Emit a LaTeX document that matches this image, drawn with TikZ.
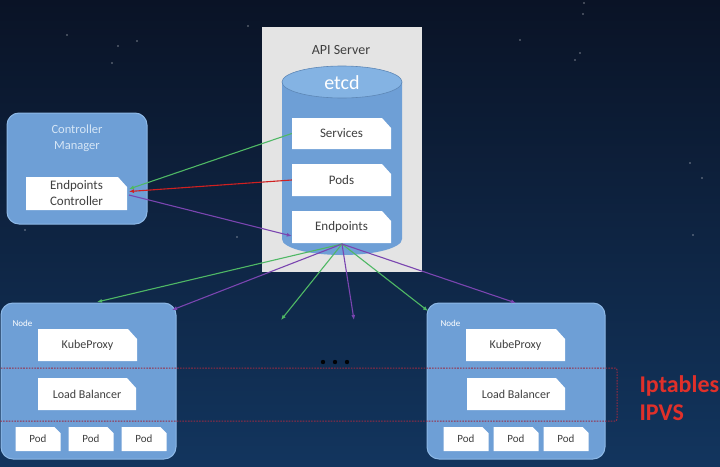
\documentclass[tikz,border=0pt]{standalone}
\usepackage{fontspec}
\setmainfont{Carlito}
\usetikzlibrary{arrows.meta}
\definecolor{bgtop}{HTML}{0A1326}
\definecolor{bgbot}{HTML}{12355E}
\definecolor{boxblue}{HTML}{6E9FD6}
\definecolor{boxedge}{HTML}{8DB8E6}
\definecolor{apigray}{HTML}{E4E4E4}
\definecolor{cyltop}{HTML}{84B3E3}
\definecolor{txtgray}{HTML}{3F3F3F}
\definecolor{cmtxt}{HTML}{D6E6F6}
\definecolor{arrgreen}{HTML}{4FB865}
\definecolor{arrpurple}{HTML}{7A45B0}
\definecolor{arrred}{HTML}{D02020}
\definecolor{lblred}{HTML}{E0302A}
\definecolor{dotred}{HTML}{9A2A42}
\begin{document}
\begin{tikzpicture}[x=1pt,y=-1pt,
  snipbox/.style={minimum width=#1, inner sep=0pt, text=txtgray, font=\fontsize{13}{14}\selectfont,
    path picture={\fill[white] (path picture bounding box.south west) -- (path picture bounding box.south east)
      -- ([yshift=-10pt]path picture bounding box.north east) -- ([xshift=-9pt]path picture bounding box.north east)
      -- (path picture bounding box.north west) -- cycle;}},
  snipbox/.default=99pt,
  bluebox/.style={draw=boxedge, line width=1pt, fill=boxblue, rounded corners=12pt, inner sep=0pt},
  podbox/.style={minimum width=45pt, minimum height=24pt, inner sep=0pt, text=txtgray, font=\fontsize{11}{12}\selectfont,
    path picture={\fill[white] (path picture bounding box.south west) -- (path picture bounding box.south east)
      -- ([yshift=-6pt]path picture bounding box.north east) -- ([xshift=-6pt]path picture bounding box.north east)
      -- (path picture bounding box.north west) -- cycle;}},
  conn/.style={line width=1.1pt, -{Latex[length=5pt,width=4pt]}},
  star/.style={fill=white, opacity=0.45},
]
% background
\shade[top color=bgtop, bottom color=bgbot] (0,0) rectangle (720,466);
\useasboundingbox (0,0) rectangle (720,466);
% stars
\foreach \sx/\sy in {67/35,118/46,137/41,112/63,25/230,237/237,584/3,583/14,580/53,575/60,690/163,702/178,693/235,248/26,520/40}
  \fill[star] (\sx,\sy) circle (0.9pt);

% API server
\node[fill=apigray, minimum width=160pt, minimum height=245pt, inner sep=0pt] (api) at (342,149.5) {};
\node[text=txtgray, font=\fontsize{14}{15}\selectfont] (apilbl) at (341,50) {API Server};
% cylinder etcd
\fill[boxblue] (282,82) -- (282,239) arc[start angle=180, end angle=360, x radius=60, y radius=-16] -- (402,82) -- cycle;
\fill[cyltop, draw=boxblue!85!black, line width=0.6pt] (342,82) ellipse[x radius=60, y radius=16];
\node[text=white, font=\fontsize{20}{21}\selectfont] (etcd) at (342,83) {etcd};

\node[snipbox, minimum height=31pt] (svc) at (341.5,133.5) {Services};
\node[snipbox, minimum height=32pt] (pods) at (341.5,180) {Pods};
\node[snipbox, minimum height=32pt] (ep) at (341.5,227) {Endpoints};

% controller manager
\node[bluebox, minimum width=140pt, minimum height=111pt] (cm) at (77,168.5) {};
\node[text=cmtxt, font=\fontsize{12.5}{16}\selectfont, align=center] (cmlbl) at (77,138) {Controller\\Manager};
\node[snipbox=101pt, minimum height=33pt, align=center, font=\fontsize{13}{16}\selectfont] (ec) at (76.5,193.5) {Endpoints\\Controller};

% nodes
\node[bluebox, minimum width=175pt, minimum height=156pt] (n1) at (88.5,381) {};
\node[bluebox, minimum width=178pt, minimum height=156pt] (n2) at (516,381) {};
\node[text=white, font=\fontsize{9}{10}\selectfont, anchor=west] (n1lbl) at (9,323) {Node};
\node[text=white, font=\fontsize{9}{10}\selectfont, anchor=west] (n2lbl) at (437,323) {Node};

\node[snipbox=99pt, minimum height=32pt, font=\fontsize{12}{13}\selectfont] (kp1) at (87.5,345) {KubeProxy};
\node[snipbox=98pt, minimum height=32pt, font=\fontsize{12}{13}\selectfont] (lb1) at (87,394) {Load Balancer};
\node[snipbox=99pt, minimum height=32pt, font=\fontsize{12}{13}\selectfont] (kp2) at (515.5,345) {KubeProxy};
\node[snipbox=98pt, minimum height=32pt, font=\fontsize{12}{13}\selectfont] (lb2) at (516,394) {Load Balancer};

\node[podbox] (p11) at (38,439) {Pod};
\node[podbox] (p12) at (91,439) {Pod};
\node[podbox] (p13) at (144,439) {Pod};
\node[podbox] (p21) at (466,439) {Pod};
\node[podbox] (p22) at (516,439) {Pod};
\node[podbox] (p23) at (566,439) {Pod};

% dotted iptables region
\draw[dotred, dash pattern=on 1.6pt off 1.2pt, line width=1pt, rounded corners=2pt] (-2,368) -- (617,368) -- (617,421) -- (-2,421);
\node[text=lblred, font=\bfseries\fontsize{24}{28}\selectfont, anchor=west, align=left] (ipt) at (636,398) {Iptables\\IPVS};

% ellipsis dots
\foreach \dx in {323,335,347} \fill[black!85!bgtop] (\dx,362) circle (2.2pt);

% connectors controller <-> etcd
\coordinate (ecg) at (129,189);
\coordinate (ecr) at (129,191.5);
\coordinate (ecp) at (129,195);
\draw[conn, arrgreen] (svc.west) -- (ecg);
\draw[conn, arrred] (pods.west) -- (ecr);
\draw[conn, arrpurple] (ecp) -- ([yshift=-9pt]ep.west);

% connectors endpoints -> nodes
\coordinate (eps) at (342,244);
\coordinate (g1) at (97,302);
\coordinate (v1) at (172,310);
\coordinate (g2) at (281,320);
\coordinate (v2) at (354,320);
\coordinate (g3) at (428,311);
\coordinate (v3) at (516,303);
\draw[conn, arrgreen] (eps) -- (g1);
\draw[conn, arrpurple] (eps) -- (v1);
\draw[conn, arrgreen] (eps) -- (g2);
\draw[conn, arrpurple] (eps) -- (v2);
\draw[conn, arrgreen] (eps) -- (g3);
\draw[conn, arrpurple] (eps) -- (v3);
\end{tikzpicture}
\end{document}
